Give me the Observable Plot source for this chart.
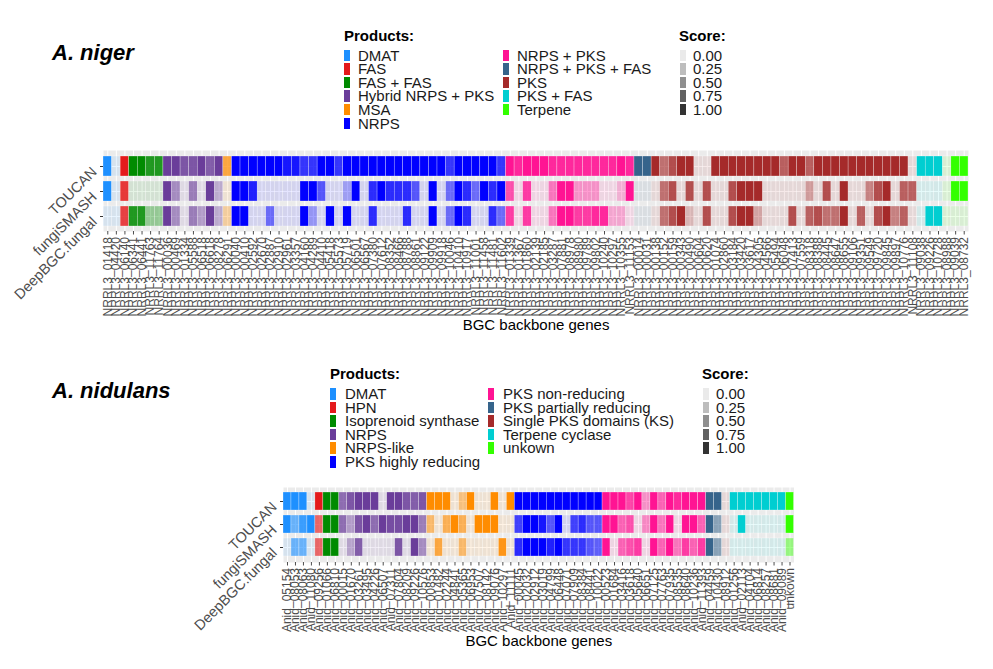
<!DOCTYPE html>
<html><head><meta charset="utf-8">
<script src="https://cdn.jsdelivr.net/npm/d3@7"></script>
<script src="https://cdn.jsdelivr.net/npm/@observablehq/plot@0.6"></script>
<style>
body{margin:0;background:#fff;font-family:"Liberation Sans",Arial,sans-serif;}
#root{position:relative;width:993px;height:669px;overflow:hidden;background:#fff;}
.abs{position:absolute;white-space:nowrap;line-height:1;}
svg{position:absolute;left:0;}
</style></head><body><div id="root"></div>
<script>
// ---------- shared ----------
const tools = ["TOUCAN", "fungiSMASH", "DeepBGC.fungal"];
const scoreTicks = [0, 0.25, 0.5, 0.75, 1];
const scoreLabels = ["0.00", "0.25", "0.50", "0.75", "1.00"];

// ---------- A. niger ----------
const nigerProducts = ["DMAT", "FAS", "FAS + FAS", "Hybrid NRPS + PKS", "MSA", "NRPS",
  "NRPS + PKS", "NRPS + PKS + FAS", "PKS", "PKS + FAS", "Terpene"];
const nigerColors = ["#1E90FF", "#E41A1C", "#008B00", "#6A3D9A", "#FF8C00", "#0000FF",
  "#FF1493", "#36648B", "#A52A2A", "#00CED1", "#33FF00"];
const nigerGeneIds = ["01418","04420","06140","06341","06441","11763","11764",
  "00036","00469","01334","05588","06518","06618","08278","06291",
  "00040","00410","02592","02670","02887","02910","02961","03357","04160","04289","04410","05418","05573","05719","06501","06567",
  "07380","07612","08352","08466","08788","08861","09122","09909","09918","10046","10410","10917","11001","11458","11481","11602",
  "01339","01367","01860","02139","02185","03287","07881","08978","08980","09789","09802","10240","10297","10355","11153",
  "00014","00031",
  "00138","00152","00159","00343","00490","00604","00620","01074","02860","03184","03420","03617","04305","04566","05494","06048",
  "07413","07559","08318","08388","08445","08647","08655","09106","09351","09549","09720","09845","09897","10776","11108",
  "09038","09226","10728","08988","09039","08732"];
const nigerGenes = nigerGeneIds.map(s => "NRRL3_" + s);
const nigerProductIndex = [0,0,1,2,2,2,2,3,3,3,3,3,3,3,4,
  5,5,5,5,5,5,5,5,5,5,5,5,5,5,5,5,5,5,5,5,5,5,5,5,5,5,5,5,5,5,5,5,
  6,6,6,6,6,6,6,6,6,6,6,6,6,6,6,
  7,7,
  8,8,8,8,8,8,8,8,8,8,8,8,8,8,8,8,8,8,8,8,8,8,8,8,8,8,8,8,8,8,8,
  9,9,9,10,10,10];
const nigerTOUCAN = [1,0,1,1,1,0.85,0.85,1,1,0.85,0.85,1,0.8,1,0.7,
  1,1,1,1,1,1,0.9,0.9,0.75,0.75,1,1,0.75,1,1,1,1,1,1,1,1,1,1,1,1,0.75,1,1,1,1,1,0.75,
  1,0.9,1,1,1,0.9,0.9,0.9,0.9,0.9,0.9,0.9,0.9,1,0.9,
  1,1,
  1,0.6,0.8,1,1,0,0,1,1,1,1,1,1,1,1,0.7,1,1,0.7,1,1,1,1,1,1,1,1,1,1,1,0,
  1,1,1,0,1,1];
const nigerFungiSMASH = [1,0,0.85,0,0,0,0,1,0.5,0,0.6,0,1,0.3,0,
  1,1,0.85,0,0,0,0,0,1,1,0.6,0,0,0.25,1,0,0.8,1,0.8,0.8,0.8,0.6,0,1,0,0.5,1,0.8,0.5,1,0.8,1,
  0.7,0,0.8,0,0,0.5,1,1,0.35,0.35,0.35,0,0,0.2,1,
  0,0,
  0,0.6,0.8,0,0.8,0,0.8,0,0,0.8,1,1,1,0,0,0,0,0,0.35,0,0.8,0,1,0,0,0.5,0.8,1,0,0.7,0.7,
  0,0,0,0,1,1];
const nigerDeepBGC = [0,0,0.8,0.85,0.85,0.3,0.3,1,0.5,0,0.6,0.4,1,0.3,0.25,
  1,1,0,0,0.5,0,0,0,1,0.3,0,1,0,1,0,0,0.8,0,0,0,0.8,0,0,1,0,0.5,1,0.8,0,0,0.8,0.5,
  0.8,0,0.8,0,0,0.5,1,1,0.8,0.8,0.9,0.9,0.25,0.25,0,
  0,0,
  0,0.6,0.8,1,0.2,0,0.8,0,0,0.8,1,1,0.3,0,0,0,0.8,0,0.7,0.8,0.6,0.6,1,0,0.7,0,0.8,1,0.5,0.7,0,
  0,1,1,0,0,0];

// ---------- A. nidulans ----------
const nidProducts = ["DMAT", "HPN", "Isoprenoid synthase", "NRPS", "NRPS-like", "PKS highly reducing",
  "PKS non-reducing", "PKS partially reducing", "Single PKS domains (KS)", "Terpene cyclase", "unkown"];
const nidColors = ["#1E90FF", "#E41A1C", "#008B00", "#6A3D9A", "#FF8C00", "#0000FF",
  "#FF1493", "#36648B", "#A52A2A", "#00CED1", "#33FF00"];
const nidGenes = ["Anid_05154","Anid_08053","Anid_08063","Anid_11080","Anid_09256","Anid_01066","Anid_06810",
  "Anid_00015","Anid_01670","Anid_03261","Anid_03495","Anid_04226","Anid_06507","Anid_07311","Anid_07804","Anid_08209","Anid_09226","Anid_10576",
  "Anid_00853","Anid_01482","Anid_02244","Anid_04841","Anid_05365","Anid_06953","Anid_07507","Anid_08142","Anid_09076","Anid_10297","Anid_11111",
  "Anid_00045","Anid_02032","Anid_02912","Anid_03019","Anid_04799","Anid_06448","Anid_07071","Anid_07909","Anid_08384","Anid_08441","Anid_10022",
  "Anid_00523","Anid_01684","Anid_03416","Anid_03618","Anid_05640","Anid_06651","Anid_07125","Anid_07763","Anid_07935","Anid_08535","Anid_08640","Anid_10236","Anid_11393",
  "Anid_04459","Anid_10430","Anid_08912",
  "Anid_01256","Anid_02113","Anid_04104","Anid_06814","Anid_08257","Anid_08681","Anid_09089","unkown"];
const nidProductIndex = [0,0,0,0,1,2,2,
  3,3,3,3,3,3,3,3,3,3,3,
  4,4,4,4,4,4,4,4,4,4,4,
  5,5,5,5,5,5,5,5,5,5,5,
  6,6,6,6,6,6,6,6,6,6,6,6,6,
  7,7,8,
  9,9,9,9,9,9,9,10];
const nidTOUCAN = [1,1,1,0,1,1,1,
  0.7,0.85,1,1,1,0,1,1,0.85,0.8,0.85,
  1,1,1,0,0.4,1,0,0,1,0,1,
  1,1,1,1,1,1,1,1,1,1,1,
  1,1,1,0.75,1,0.35,1,0.6,1,0.9,1,1,1,
  1,1,0,
  1,1,1,1,1,1,1,1];
const nidFungiSMASH = [1,0.6,0.85,1,0.6,1,1,
  0.7,0.4,0.85,1,0.7,1,0.9,0.9,1,1,0.6,
  0.5,0,0.6,1,0.6,0,1,1,1,0,0,
  0.7,1,1,0.9,0.6,1,0,0.7,0.8,0.6,0.6,
  1,1,0.6,0.7,0,0.4,1,0.5,1,0,1,1,0.6,
  1,0.5,0,
  0,1,0,0,0,0,0,1];
const nidDeepBGC = [0,0.6,0.6,0,0.6,1,1,
  0,0.35,0.8,0,0,0,0,0.85,0,1,0.5,
  0,0.7,0,0,0.5,0,0,0,0,0.9,0,
  0.8,1,1,1,0.85,1,0.75,0.75,0.75,0.6,0.55,
  1,0,0.6,0.7,0.8,0,1,0.6,1,0.5,0.8,0.6,0.8,
  1,0.5,0,
  0,0,0,0,0,0,0,0.4];

// ---------- helpers ----------
const root = document.getElementById("root");
const FONT = "Liberation Sans, Arial, sans-serif";
const alphaOf = s => 0.1 + 0.9 * s;
const STEP = 13.6;

function addText(txt, x, y, css) {
  const d = document.createElement("div");
  d.className = "abs";
  d.textContent = txt;
  d.style.left = x + "px";
  d.style.top = y + "px";
  Object.assign(d.style, css || {});
  root.appendChild(d);
  return d;
}
function addBox(x, y, w, h, color) {
  const d = document.createElement("div");
  d.className = "abs";
  Object.assign(d.style, {left: x + "px", top: y + "px", width: w + "px", height: h + "px", background: color});
  root.appendChild(d);
}
const itemCss = {fontSize: "15px", lineHeight: STEP + "px", height: STEP + "px", color: "#1A1A1A"};
function legend(L, products, colors) {
  addText("Products:", L.px, L.y0, {fontSize: "15px", fontWeight: "bold", color: "#000"});
  products.forEach((p, k) => {
    const col = k < 6 ? 0 : 1, row = k < 6 ? k : k - 6;
    const sx = col ? L.px2 : L.px, tx = col ? L.tx2 : L.tx;
    const top = L.y1 + row * STEP;
    addBox(sx, top + 1, 6, 11.6, colors[k]);
    addText(p, tx, top, itemCss);
  });
  addText("Score:", L.sx, L.y0, {fontSize: "15px", fontWeight: "bold", color: "#000"});
  scoreTicks.forEach((s, k) => {
    const top = L.y1 + k * STEP;
    addBox(L.sx + 1, top + 1, 6, 11.6, `rgba(51,51,51,${alphaOf(s)})`);
    addText(scoreLabels[k], L.stx, top, itemCss);
  });
}

function heat(o) {
  const data = [];
  const scores = [o.t, o.f, o.d];
  tools.forEach((tool, r) => o.genes.forEach((g, i) =>
    data.push({gene: g, tool, product: o.products[o.prodIdx[i]], score: scores[r][i]})));
  const svg = Plot.plot({
    width: 993, height: o.height,
    marginLeft: o.ml, marginRight: o.mr, marginTop: o.mt, marginBottom: o.mb,
    style: {fontFamily: FONT, background: "transparent", overflow: "visible"},
    x: {domain: o.genes, padding: 0, label: null},
    y: {domain: tools, paddingInner: o.pin, paddingOuter: o.pout, label: null},
    color: {type: "ordinal", domain: o.products, range: o.colors},
    marks: [
      Plot.frame({fill: "#EBEBEB", stroke: null}),
      Plot.gridX({stroke: "white", strokeOpacity: 1, strokeWidth: 1}),
      Plot.gridY({stroke: "white", strokeOpacity: 1, strokeWidth: 1}),
      Plot.cell(data, {x: "gene", y: "tool", fill: "product", fillOpacity: d => alphaOf(d.score),
        stroke: "white", strokeWidth: 0.4, strokeOpacity: 0.7}),
      Plot.axisX({tickRotate: -90, tickSize: 3.5, tickPadding: 2, fontSize: 12, color: "#4D4D4D", label: null}),
      Plot.axisY({tickSize: 3, tickFormat: () => "", color: "#333", label: null}),
      Plot.text(tools, {y: d => d, frameAnchor: "left", dx: -13, dy: -1, rotate: -45, textAnchor: "end",
        lineAnchor: "top", fontSize: 14.5, fill: "#4D4D4D"}),
      Plot.text(["BGC backbone genes"], {frameAnchor: "bottom", dy: o.labelDy, fontSize: 15, fill: "#000"})
    ]
  });
  svg.style.top = o.top + "px";
  root.appendChild(svg);
}

// ---------- A. niger ----------
addText("A. niger", 52, 42, {fontSize: "22px", fontWeight: "bold", fontStyle: "italic", color: "#000"});
legend({px: 344, tx: 358, px2: 503, tx2: 517, sx: 679, stx: 693, y0: 28, y1: 48.5}, nigerProducts, nigerColors);
heat({genes: nigerGenes, prodIdx: nigerProductIndex, products: nigerProducts, colors: nigerColors,
  t: nigerTOUCAN, f: nigerFungiSMASH, d: nigerDeepBGC,
  top: 145, height: 195, ml: 103, mr: 25, mt: 5, mb: 109, pin: 0.22, pout: 0.2, labelDy: 98});

// ---------- A. nidulans ----------
addText("A. nidulans", 52, 380, {fontSize: "22px", fontWeight: "bold", fontStyle: "italic", color: "#000"});
legend({px: 330, tx: 345, px2: 488, tx2: 503, sx: 702, stx: 716, y0: 366, y1: 387}, nidProducts, nidColors);
heat({genes: nidGenes, prodIdx: nidProductIndex, products: nidProducts, colors: nidColors,
  t: nidTOUCAN, f: nidFungiSMASH, d: nidDeepBGC,
  top: 480, height: 185, ml: 283, mr: 199.5, mt: 7, mb: 103, pin: 0.21, pout: 0.17, labelDy: 83});
</script>
</body></html>
